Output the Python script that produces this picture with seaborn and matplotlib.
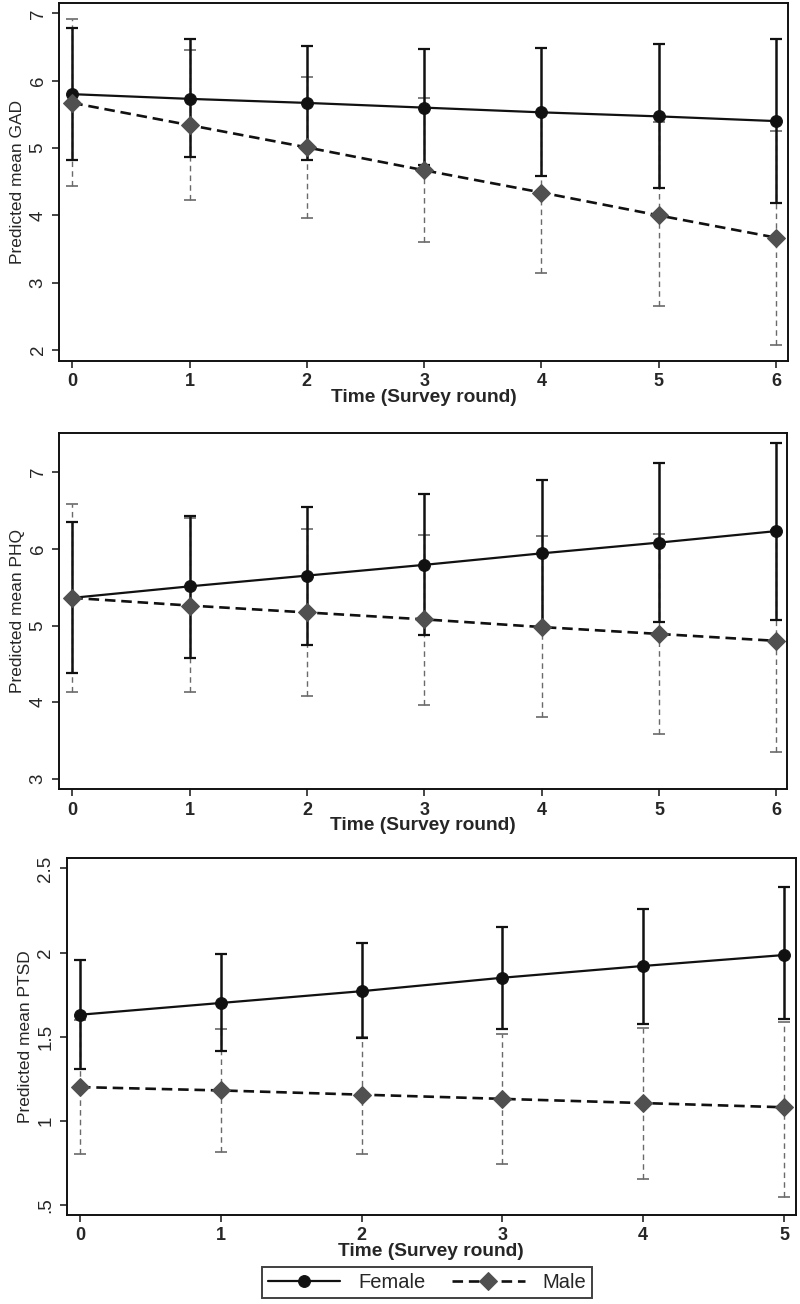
import matplotlib
matplotlib.use("Agg")
import matplotlib.pyplot as plt
import numpy as np
import pandas as pd
import seaborn as sns

sns.set_style("ticks")
plt.rcParams['font.family'] = ['Liberation Sans', 'DejaVu Sans']

# predicted means and 95% CI
gad_time = [0, 1, 2, 3, 4, 5, 6]
gad_f_mean = [5.80, 5.73, 5.67, 5.60, 5.53, 5.47, 5.40]
gad_f_lo = [4.83, 4.86, 4.83, 4.75, 4.59, 4.41, 4.18]
gad_f_hi = [6.78, 6.62, 6.52, 6.47, 6.48, 6.54, 6.62]
gad_m_mean = [5.67, 5.34, 5.01, 4.67, 4.34, 4.00, 3.67]
gad_m_lo = [4.43, 4.23, 3.96, 3.60, 3.15, 2.65, 2.08]
gad_m_hi = [6.92, 6.45, 6.05, 5.74, 5.53, 5.38, 5.26]

phq_time = [0, 1, 2, 3, 4, 5, 6]
phq_f_mean = [5.36, 5.51, 5.65, 5.79, 5.94, 6.08, 6.23]
phq_f_lo = [4.38, 4.58, 4.75, 4.88, 4.98, 5.04, 5.07]
phq_f_hi = [6.35, 6.42, 6.55, 6.71, 6.90, 7.12, 7.38]
phq_m_mean = [5.36, 5.26, 5.17, 5.08, 4.98, 4.89, 4.80]
phq_m_lo = [4.14, 4.14, 4.08, 3.97, 3.81, 3.59, 3.35]
phq_m_hi = [6.58, 6.40, 6.26, 6.18, 6.17, 6.19, 6.25]

ptsd_time = [0, 1, 2, 3, 4, 5]
ptsd_f_mean = [1.63, 1.70, 1.77, 1.85, 1.92, 1.985]
ptsd_f_lo = [1.31, 1.415, 1.49, 1.545, 1.575, 1.605]
ptsd_f_hi = [1.955, 1.99, 2.055, 2.15, 2.26, 2.39]
ptsd_m_mean = [1.20, 1.18, 1.155, 1.13, 1.105, 1.08]
ptsd_m_lo = [0.80, 0.815, 0.80, 0.745, 0.655, 0.545]
ptsd_m_hi = [1.60, 1.545, 1.50, 1.515, 1.55, 1.585]

BLACK = '#111111'
GREY = '#505050'
GREY_CI = '#6a6a6a'


def make_df(t, fm, flo, fhi, mm, mlo, mhi):
    f = pd.DataFrame({'time': t, 'mean': fm, 'lo': flo, 'hi': fhi, 'sex': 'Female'})
    m = pd.DataFrame({'time': t, 'mean': mm, 'lo': mlo, 'hi': mhi, 'sex': 'Male'})
    return pd.concat([f, m], ignore_index=True)


def fix_markers(lines):
    for ln in lines:
        if ln.get_marker() == 'D':
            ln.set_markerfacecolor(GREY)
            ln.set_markeredgecolor(GREY)
            ln.set_markersize(9)
        elif ln.get_marker() == 'o':
            ln.set_markerfacecolor(BLACK)
            ln.set_markeredgecolor(BLACK)
            ln.set_markersize(8.5)


def panel(ax, df, ylabel, yticks, yticklabels, xlim, ylim, legend=False):
    # confidence intervals
    for sex, col, ls, lw in [('Male', GREY_CI, (0, (4, 3)), 1.0), ('Female', BLACK, '-', 1.8)]:
        d = df[df['sex'] == sex]
        eb = ax.errorbar(d['time'], d['mean'],
                         yerr=[d['mean'] - d['lo'], d['hi'] - d['mean']],
                         fmt='none', ecolor=col, elinewidth=lw, capsize=4,
                         capthick=1.2 if sex == 'Male' else 1.6, zorder=2)
        eb[2][0].set_linestyle(ls)
    sns.lineplot(data=df, x='time', y='mean', hue='sex', style='sex',
                 palette={'Female': BLACK, 'Male': BLACK},
                 markers={'Female': 'o', 'Male': 'D'},
                 dashes={'Female': '', 'Male': (4, 2.2)},
                 markersize=9, linewidth=1.6, legend=legend, ax=ax, zorder=3)
    fix_markers(ax.get_lines())
    for ln in ax.get_lines():
        if ln.get_marker() == 'D':
            ln.set_linewidth(1.9)
    ax.set_xlim(*xlim)
    ax.set_ylim(*ylim)
    ax.set_xticks(sorted(df['time'].unique()))
    ax.set_yticks(yticks)
    ax.set_yticklabels(yticklabels, rotation=90, va='center', fontsize=13.5)
    ax.tick_params(axis='x', labelsize=13, length=5, width=1.2, pad=4)
    ax.tick_params(axis='y', length=5, width=1.2, pad=4)
    for lab in ax.get_xticklabels():
        lab.set_fontweight('bold')
    ax.set_xlabel('Time (Survey round)', fontsize=13.8, fontweight='bold', labelpad=-1)
    ax.set_ylabel(ylabel, fontsize=12.5, labelpad=3)
    for s in ax.spines.values():
        s.set_visible(True)
        s.set_color(BLACK)
        s.set_linewidth(1.4)


fig = plt.figure(figsize=(8, 13.04), dpi=100)
ax1 = fig.add_axes([0.07375, 0.7232, 0.911, 0.2745])
ax2 = fig.add_axes([0.07375, 0.3949, 0.910, 0.2732])
ax3 = fig.add_axes([0.0834, 0.0683, 0.9116, 0.2735])

panel(ax1, make_df(gad_time, gad_f_mean, gad_f_lo, gad_f_hi, gad_m_mean, gad_m_lo, gad_m_hi),
      'Predicted mean GAD', [2, 3, 4, 5, 6, 7], ['2', '3', '4', '5', '6', '7'],
      (-0.113, 6.10), (1.84, 7.153))
panel(ax2, make_df(phq_time, phq_f_mean, phq_f_lo, phq_f_hi, phq_m_mean, phq_m_lo, phq_m_hi),
      'Predicted mean PHQ', [3, 4, 5, 6, 7], ['3', '4', '5', '6', '7'],
      (-0.113, 6.09), (2.87, 7.51))
panel(ax3, make_df(ptsd_time, ptsd_f_mean, ptsd_f_lo, ptsd_f_hi, ptsd_m_mean, ptsd_m_lo, ptsd_m_hi),
      'Predicted mean PTSD', [0.5, 1, 1.5, 2, 2.5], ['.5', '1', '1.5', '2', '2.5'],
      (-0.094, 5.085), (0.44, 2.56), legend=True)

handles, labels = ax3.get_legend_handles_labels()
ax3.get_legend().remove()
fix_markers(handles)
leg = fig.legend(handles, labels, loc='lower center', bbox_to_anchor=(0.534, -0.003),
                 ncol=2, frameon=True, fancybox=False, edgecolor=BLACK,
                 fontsize=14.5, handlelength=3.6, columnspacing=1.3,
                 borderpad=0.3, handletextpad=0.9)
leg.get_frame().set_linewidth(1.4)

fig.savefig('out.png', dpi=100)
